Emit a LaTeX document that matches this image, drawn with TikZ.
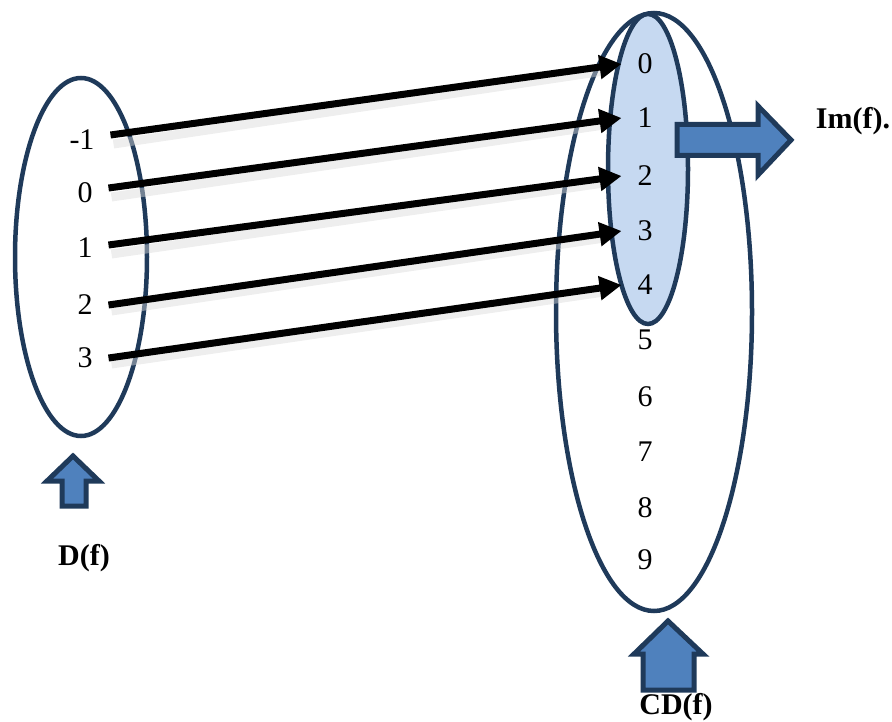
\documentclass[tikz,border=0pt]{standalone}
\usepackage{fontspec}
\setmainfont{Liberation Serif}
\usepackage{tikz}
\usetikzlibrary{arrows.meta}

\definecolor{setline}{HTML}{1F3A5A}
\definecolor{imfill}{HTML}{C6D9F1}
\definecolor{blockfill}{HTML}{4F81BD}

\begin{document}
\begin{tikzpicture}[x=1pt,y=-1pt,>={Triangle[length=22pt,width=23pt]},
    elem/.style={inner sep=0pt,outer xsep=16pt,font=\fontsize{30}{34}\selectfont},
    setlabel/.style={inner sep=0pt,font=\fontsize{30}{34}\selectfont\bfseries},
    map/.style={->,line width=7pt},
    mapshadow/.style={line width=9pt,draw=black!15,opacity=0.45,shorten >=20pt},
    setbox/.style={draw=setline,line width=4.5pt},
    block/.style={draw=setline,line width=5pt,fill=blockfill,line join=miter}]
        \useasboundingbox (0,0) rectangle (892,722);

        % the two sets
        \draw[setbox] (81,257) ellipse [x radius=66pt,y radius=179pt];
        \draw[setbox] (654,312) ellipse [x radius=98pt,y radius=299pt];
        \draw[setbox,fill=imfill] (648,169) ellipse [x radius=40pt,y radius=155pt];

        % domain
        \node[elem] (dm1) at (82,140) {-1};
        \node[elem] (d0) at (85,193) {0};
        \node[elem] (d1) at (85,248) {1};
        \node[elem] (d2) at (85,305) {2};
        \node[elem] (d3) at (85,358) {3};

        % codomain
        \node[elem] (c0) at (645,64) {0};
        \node[elem] (c1) at (645,118) {1};
        \node[elem] (c2) at (645,176) {2};
        \node[elem] (c3) at (645,231) {3};
        \node[elem] (c4) at (645,285) {4};
        \node[elem] (c5) at (645,340) {5};
        \node[elem] (c6) at (645,397) {6};
        \node[elem] (c7) at (645,452) {7};
        \node[elem] (c8) at (645,508) {8};
        \node[elem] (c9) at (645,560) {9};

        % soft shadows under the maps
        \draw[mapshadow] ([shift={(3pt,-4pt)}]dm1.east) -- ([shift={(3pt,-4pt)}]c0.west);
        \draw[mapshadow] ([shift={(3pt,-4pt)}]d0.east) -- ([shift={(3pt,-4pt)}]c1.west);
        \draw[mapshadow] ([shift={(3pt,-6pt)}]d1.east) -- ([shift={(3pt,-4pt)}]c2.west);
        \draw[mapshadow] ([shift={(3pt,-6pt)}]d2.east) -- ([shift={(3pt,-4pt)}]c3.west);
        \draw[mapshadow] ([shift={(3pt,-6pt)}]d3.east) -- ([shift={(3pt,-4pt)}]c4.west);

        \draw[map] ([yshift=5pt]dm1.east) -- (c0.west);
        \draw[map] ([yshift=5pt]d0.east) -- (c1.west);
        \draw[map] ([yshift=3pt]d1.east) -- (c2.west);
        \draw[map] (d2.east) -- (c3.west);
        \draw[map] (d3.east) -- (c4.west);

        % block arrows
        \draw[block] (677,124.5) -- (758,124.5) -- (758,106) -- (791,140) -- (758,175)
            -- (758,155.5) -- (677,155.5) -- cycle;
        \draw[block] (62,506) -- (62,481) -- (47,481) -- (73,456) -- (99,481)
            -- (86,481) -- (86,506) -- cycle;
        \draw[block] (643,690) -- (643,654) -- (634,654) -- (668,621) -- (703,654)
            -- (694,654) -- (694,690) -- cycle;

        \node[setlabel] (im) at (853,121) {Im(f).};
        \node[setlabel] (dom) at (84,558) {D(f)};
        \node[setlabel] (cod) at (676,707) {CD(f)};
\end{tikzpicture}
\end{document}
